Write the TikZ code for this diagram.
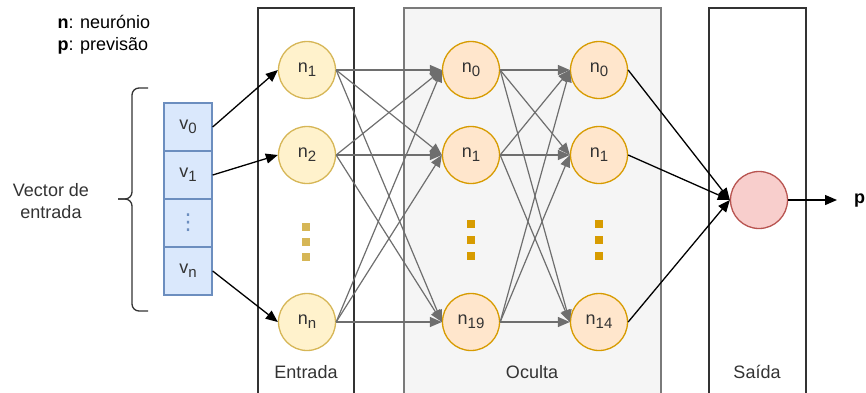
\documentclass[tikz,border=0pt]{standalone}
\usepackage{fontspec}
\setmainfont{Liberation Sans}
\newfontfamily\symfont{DejaVu Sans}
\usetikzlibrary{arrows.meta}
\definecolor{inpfill}{HTML}{FFF2CC}
\definecolor{inpline}{HTML}{D6B656}
\definecolor{hidfill}{HTML}{FFE6CC}
\definecolor{hidline}{HTML}{D79B00}
\definecolor{outfill}{HTML}{F8CECC}
\definecolor{outline}{HTML}{B85450}
\definecolor{vecfill}{HTML}{DAE8FC}
\definecolor{vecline}{HTML}{6C8EBF}
\definecolor{edgegray}{HTML}{6E6E6E}
\definecolor{boxgray}{HTML}{F5F5F5}
\definecolor{boxline}{HTML}{7A7A7A}
\definecolor{txt}{HTML}{333333}
\newcommand{\sbs}[1]{\raisebox{-4pt}{\fontsize{15}{15}\selectfont #1}}
\tikzset{
  lbl/.style={font=\fontsize{18}{22}\selectfont, text=txt},
  neuron/.style={circle, minimum size=57pt, inner sep=0pt, line width=1.3pt, font=\fontsize{18}{22}\selectfont, text=txt},
  inp/.style={neuron, draw=inpline, fill=inpfill},
  hid/.style={neuron, draw=hidline, fill=hidfill},
  outn/.style={neuron, draw=outline, fill=outfill},
  cell/.style={draw=vecline, fill=vecfill, line width=1.3pt, minimum width=48pt, minimum height=48pt, inner sep=0pt, font=\fontsize{18}{22}\selectfont, text=txt},
  layerbox/.style={line width=1.6pt},
  grayedge/.style={draw=edgegray, line width=1.2pt, -{Triangle[length=12pt,width=10pt]}},
  blackedge/.style={draw=black, line width=1.3pt, -{Triangle[length=12pt,width=10pt]}},
  dotsq/.style={minimum size=7.5pt, inner sep=0pt}
}
\begin{document}
\begin{tikzpicture}[x=1pt,y=-1pt]
\useasboundingbox (0,0) rectangle (866,392);
% layer boxes
\draw[layerbox, draw=black!80] (258,8) rectangle (354,400);
\draw[layerbox, draw=boxline, fill=boxgray] (404,8) rectangle (661,400);
\draw[layerbox, draw=black!80] (709,8) rectangle (806,400);
\node[lbl] (lin) at (306,372) {Entrada};
\node[lbl] (lhid) at (532,372) {Oculta};
\node[lbl] (lout) at (757,372) {Saída};
% legend
\node[lbl, text=black, anchor=west, align=left] (leg1) at (54,22) {\textbf{n}: neurónio};
\node[lbl, text=black, anchor=west, align=left] (leg2) at (54,46) {\textbf{p}: previsão};
% input vector
\node[cell] (v0) at (188,127) {v\sbs{0}};
\node[cell] (v1) at (188,175) {v\sbs{1}};
\node[cell, text=vecline] (vd) at (188,223) {\symfont\fontsize{22}{24}\selectfont ⋮};
\node[cell] (vn) at (188,271) {v\sbs{n}};
\node[lbl, align=center] (vlab) at (51,201) {Vector de\\entrada};
% brace
\draw[line width=1.3pt, rounded corners=7pt, draw=black!80] (148,88) -- (132,88) -- (132,199) -- (118,199);
\draw[line width=1.3pt, rounded corners=7pt, draw=black!80] (118,199) -- (132,199) -- (132,311) -- (148,311);
% neurons
\node[inp] (i1) at (307,70) {n\sbs{1}};
\node[inp] (i2) at (307,155) {n\sbs{2}};
\node[inp] (in) at (307,322) {n\sbs{n}};
\node[hid] (a0) at (471,70) {n\sbs{0}};
\node[hid] (a1) at (471,155) {n\sbs{1}};
\node[hid] (a19) at (471,322) {n\sbs{19}};
\node[hid] (b0) at (599,70) {n\sbs{0}};
\node[hid] (b1) at (599,155) {n\sbs{1}};
\node[hid] (b14) at (599,322) {n\sbs{14}};
\node[outn] (o) at (759,200) {};
\coordinate (pend) at (837,200);
\node[font=\fontsize{18}{22}\selectfont\bfseries, anchor=west, inner sep=0pt] (p) at (854,201) {p};
% dots
\foreach \y in {227,242,257} \node[dotsq, fill=inpline] at (306,\y) {};
\foreach \y in {224,240,256} {
  \node[dotsq, fill=hidline] at (471,\y) {};
  \node[dotsq, fill=hidline] at (599,\y) {};
}
% edges
\draw[blackedge] (v0.east) -- (i1.west);
\draw[blackedge] (v1.east) -- (i2.west);
\draw[blackedge] (vn.east) -- (in.west);
\foreach \s in {i1,i2,in} \foreach \t in {a0,a1,a19} \draw[grayedge] (\s.east) -- (\t.west);
\foreach \s in {a0,a1,a19} \foreach \t in {b0,b1,b14} \draw[grayedge] (\s.east) -- (\t.west);
\foreach \s in {b0,b1,b14} \draw[blackedge] (\s.east) -- (o.west);
\draw[blackedge] (o.east) -- (pend);
\end{tikzpicture}
\end{document}
